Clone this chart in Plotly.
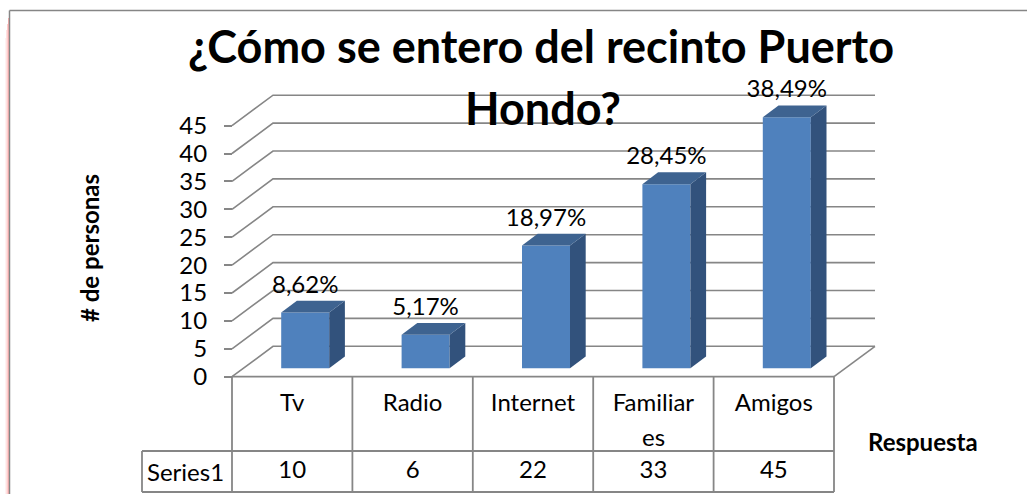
import plotly.graph_objects as go

# ---- data ----
categories = ["Tv", "Radio", "Internet", "Familiares", "Amigos"]
category_lines = ["Tv", "Radio", "Internet", "Familiar", "Amigos"]
values = [10, 6, 22, 33, 45]
pct_labels = ["8,62%", "5,17%", "18,97%", "28,45%", "38,49%"]
y_ticks = [0, 5, 10, 15, 20, 25, 30, 35, 40, 45]
series_name = "Series1"
title_line1 = "¿Cómo se entero del recinto Puerto"
title_line2 = "Hondo?"

# ---- geometry (pixel scale of the axes) ----
W, H = 1027, 494
X0, PX_CAT = 232.0, 120.4
Y0, PX_VAL = 376.7, 5.58
def yval(py): return (Y0 - py) / PX_VAL
def xval(px): return (px - X0) / PX_CAT

DX, DY = 41 / PX_CAT, 30.4 / PX_VAL          # depth of chart floor
BAR_W = 48 / PX_CAT
BAR_SHIFT = 13 / PX_CAT
BASE = 8.4 / PX_VAL
SDX, SDY = 15.7 / PX_CAT, 11.8 / PX_VAL      # depth of each bar
n = len(categories)

GRID = "#868686"
FRONT, SIDE, TOP = "#4f81bd", "#32527c", "#3e6390"
FONT = "Lato"
TXT = "#000000"
LABEL_SIZE = 24

fig = go.Figure()

# wall grid lines
for t in y_ticks:
    fig.add_trace(go.Scatter(
        x=[0, DX, n + DX], y=[t, t + DY, t + DY], mode="lines",
        line=dict(color=GRID, width=1.6), hoverinfo="skip", showlegend=False, zorder=-2))
# floor right edge
fig.add_trace(go.Scatter(x=[n, n + DX], y=[0, DY], mode="lines",
                         line=dict(color=GRID, width=1.6), hoverinfo="skip",
                         showlegend=False, zorder=-2))

# front faces
xs = [i + 0.5 + BAR_SHIFT for i in range(n)]
fig.add_trace(go.Bar(x=xs, y=values, base=[BASE] * n, width=BAR_W,
                     marker=dict(color=FRONT, line=dict(width=0)),
                     showlegend=False, name=series_name, zorder=0))

# sides and tops
for xc, v in zip(xs, values):
    l, r = xc - BAR_W / 2, xc + BAR_W / 2
    b, t = BASE, BASE + v
    fig.add_trace(go.Scatter(
        x=[r, r + SDX, r + SDX, r, r], y=[b, b + SDY, t + SDY, t, b],
        mode="lines", fill="toself", fillcolor=SIDE, line=dict(width=0),
        hoverinfo="skip", showlegend=False, zorder=1))
    fig.add_trace(go.Scatter(
        x=[l, r, r + SDX, l + SDX, l], y=[t, t, t + SDY, t + SDY, t],
        mode="lines", fill="toself", fillcolor=TOP, line=dict(width=0),
        hoverinfo="skip", showlegend=False, zorder=1))

# data labels
fig.add_trace(go.Scatter(
    x=xs, y=[v + BASE + 26 / PX_VAL for v in values],
    mode="text", text=pct_labels, textposition="middle center",
    textfont=dict(family=FONT, size=LABEL_SIZE, color=TXT), hoverinfo="skip",
    showlegend=False, zorder=3))

# data table rules
row1, row2 = yval(451), yval(492)
tx = []
ty = []
for i in range(n + 1):
    tx += [i, i, None]
    ty += [0, row2, None]
tx += [0, n, None, xval(142), n, None, xval(142), n, None, xval(142), xval(142)]
ty += [0, 0, None, row1, row1, None, row2, row2, None, row1, row2]
fig.add_trace(go.Scatter(x=tx, y=ty, mode="lines", line=dict(color=GRID, width=1.8),
                         hoverinfo="skip", showlegend=False, zorder=2))

# table text
cx = [i + 0.5 for i in range(n)]
fig.add_trace(go.Scatter(
    x=cx, y=[row2 + 20 / PX_VAL] * n, mode="text", text=[str(v) for v in values],
    textposition="middle center", textfont=dict(family=FONT, size=LABEL_SIZE, color=TXT),
    hoverinfo="skip", showlegend=False, zorder=3))

ann = dict(showarrow=False, xref="paper", yref="paper", xanchor="center", yanchor="middle")
def P(px, py): return dict(x=px / W, y=1 - py / H)

def strip(x0, x1, y_top, color):
    return dict(type="rect", xref="paper", yref="paper", x0=x0 / W, x1=x1 / W, y0=0,
                y1=1 - y_top / H, fillcolor=color, line=dict(width=0))

fig.update_layout(
    width=W, height=H, autosize=False,
    margin=dict(l=0, r=0, t=0, b=0),
    paper_bgcolor="white", plot_bgcolor="rgba(0,0,0,0)",
    barmode="overlay",
    title=dict(text=title_line1, x=541 / W, xanchor="center", y=1 - 47 / H, yanchor="middle",
               font=dict(family=FONT, size=45, color=TXT, weight="bold")),
    xaxis=dict(range=[xval(0), xval(W)], domain=[0, 1], anchor="free",
               position=(H - Y0) / H, showgrid=False, zeroline=False, showline=False,
               tickmode="array", tickvals=cx, ticktext=category_lines, ticks="", ticklabelstandoff=9,
               tickfont=dict(family=FONT, size=LABEL_SIZE, color=TXT), automargin=False),
    yaxis=dict(range=[yval(H), yval(0)], domain=[0, 1], anchor="free",
               position=X0 / W, showgrid=False, zeroline=False, showline=False,
               tickmode="array", tickvals=y_ticks, ticks="outside", ticklen=8, tickwidth=1.6,
               ticklabelstandoff=12,
               tickcolor=GRID, tickfont=dict(family=FONT, size=LABEL_SIZE, color=TXT), automargin=False),
    shapes=[
        strip(5, 6, 38, "#fff2f2"),
        strip(6, 7, 30, "#ffe2e2"),
        strip(7, 8, 24, "#ffcccc"),
        strip(8, 9, 18, "#ffb0b0"),
        dict(type="line", xref="paper", yref="paper", x0=9.5 / W, x1=9.5 / W, y0=0, y1=1 - 10.5 / H,
             line=dict(color=GRID, width=1.5)),
        dict(type="line", xref="paper", yref="paper", x0=9.5 / W, x1=1, y0=1 - 10.5 / H, y1=1 - 10.5 / H,
             line=dict(color=GRID, width=1.5)),
    ],
    annotations=[
        dict(text=title_line2, font=dict(family=FONT, size=45, color=TXT, weight="bold"), **P(543, 108), **ann),
        dict(text="# de personas", textangle=-90, font=dict(family=FONT, size=24, color=TXT, weight="bold"),
             **P(90, 248), **ann),
        dict(text="Respuesta", font=dict(family=FONT, size=24, color=TXT, weight="bold"), **P(923, 441), **ann),
        dict(text="es", font=dict(family=FONT, size=LABEL_SIZE, color=TXT), **P(653, 436), **ann),
        dict(text=series_name, font=dict(family=FONT, size=LABEL_SIZE, color=TXT), **P(185, 471), **ann),
    ],
)
fig.write_html("out.html", config={"displayModeBar": False},
               post_script="document.body.style.margin='0';document.body.style.overflow='hidden';")
